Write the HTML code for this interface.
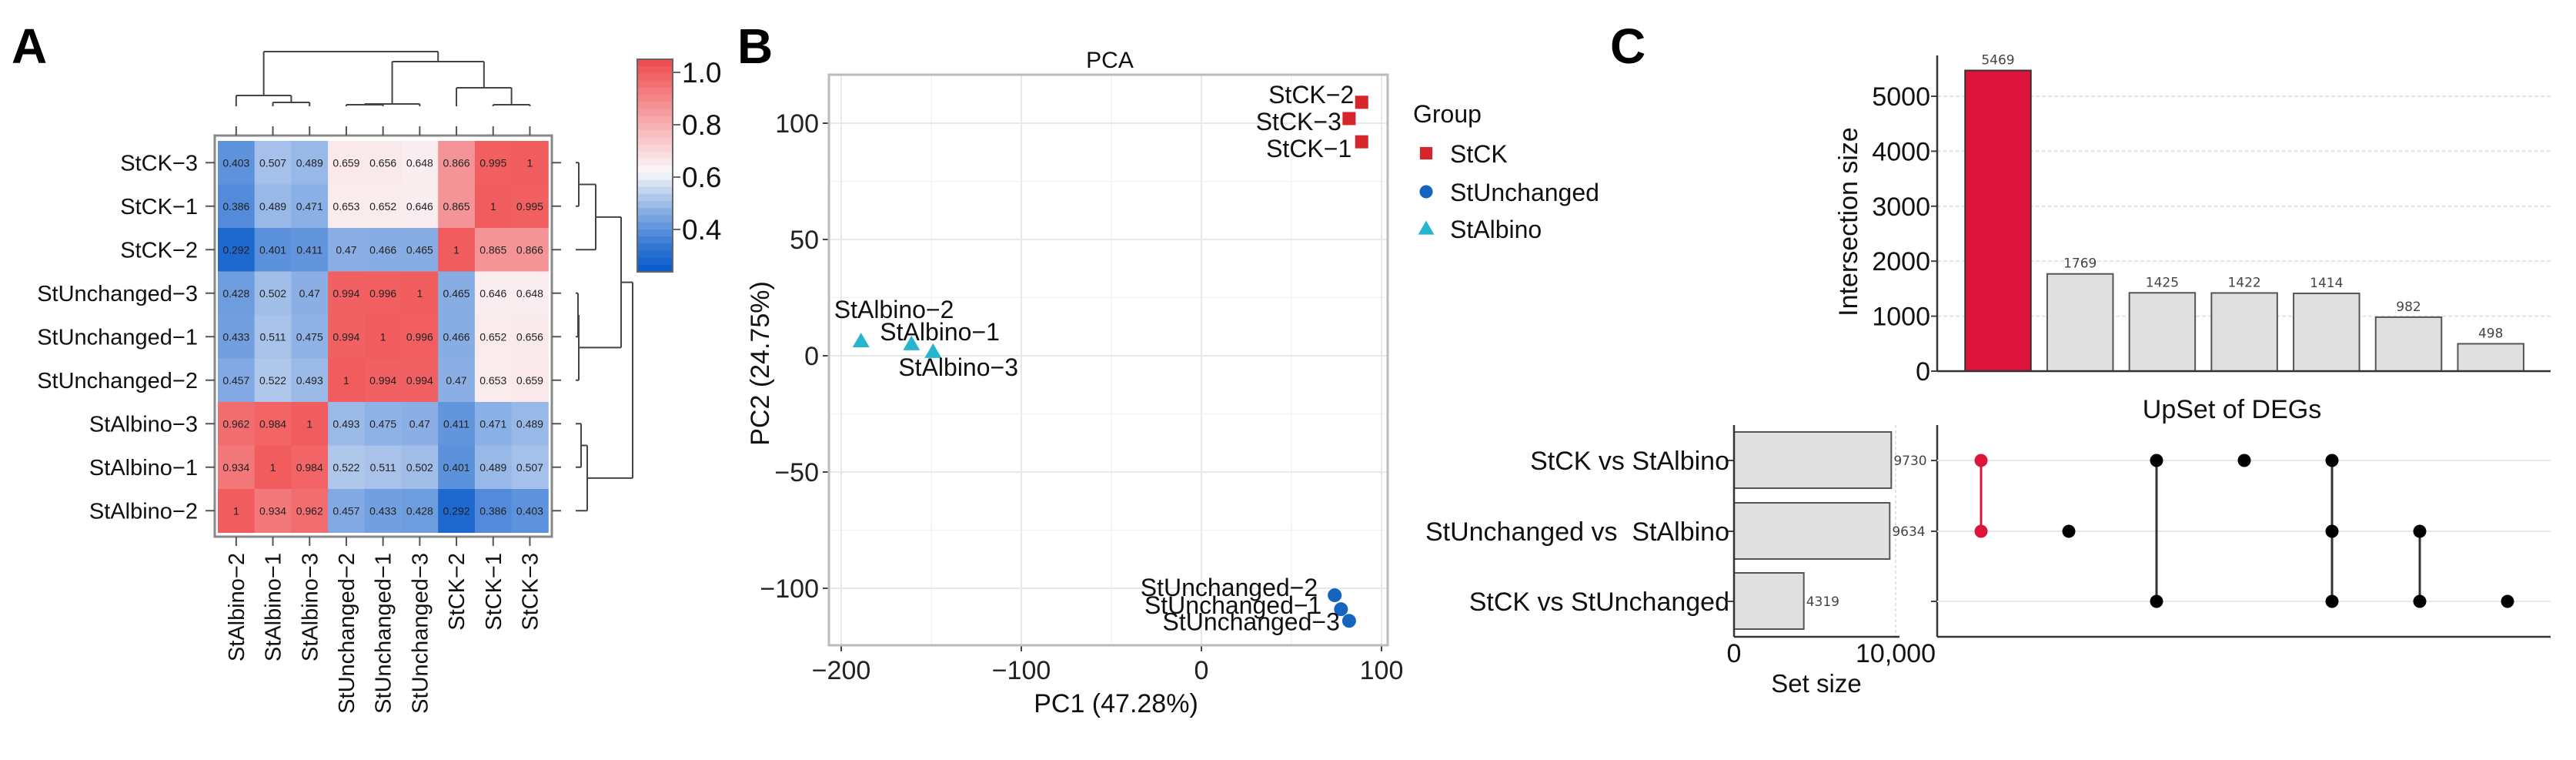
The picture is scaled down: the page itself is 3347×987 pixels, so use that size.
<!DOCTYPE html>
<html><head><meta charset="utf-8"><style>
html,body{margin:0;padding:0;background:#fff;}
svg{display:block;font-family:"Liberation Sans",Arial,sans-serif;}
</style></head><body>
<svg id="fig" xmlns="http://www.w3.org/2000/svg" width="3347" height="987" viewBox="0 0 3347 987">
<rect width="3347" height="987" fill="#fff"/>
<text x="15" y="82" font-size="64" font-weight="bold">A</text>
<text x="958" y="82" font-size="64" font-weight="bold">B</text>
<text x="2092" y="82" font-size="64" font-weight="bold">C</text>
<g id="heat"></g>
<g id="pca"></g>
<g id="upset"></g>
</svg>
<script>
// ---------- Panel A data ----------
const rowLabels = ["StCK-3","StCK-1","StCK-2","StUnchanged-3","StUnchanged-1","StUnchanged-2","StAlbino-3","StAlbino-1","StAlbino-2"];
const colLabels = ["StAlbino-2","StAlbino-1","StAlbino-3","StUnchanged-2","StUnchanged-1","StUnchanged-3","StCK-2","StCK-1","StCK-3"];
const corrValues = [
 [0.403,0.507,0.489,0.659,0.656,0.648,0.866,0.995,1],
 [0.386,0.489,0.471,0.653,0.652,0.646,0.865,1,0.995],
 [0.292,0.401,0.411,0.47,0.466,0.465,1,0.865,0.866],
 [0.428,0.502,0.47,0.994,0.996,1,0.465,0.646,0.648],
 [0.433,0.511,0.475,0.994,1,0.996,0.466,0.652,0.656],
 [0.457,0.522,0.493,1,0.994,0.994,0.47,0.653,0.659],
 [0.962,0.984,1,0.493,0.475,0.47,0.411,0.471,0.489],
 [0.934,1,0.984,0.522,0.511,0.502,0.401,0.489,0.507],
 [1,0.934,0.962,0.457,0.433,0.428,0.292,0.386,0.403]];
const colTree = [[0,[1,2,5],14],[[[3,4,2],5,3],[6,[7,8,2],24],58],71];
const rowTree = [[[[0,1,4],2,26],[[3,4,3],5,4],59],[[6,7,7],8,15],74];
const cbarTicks = [1.0,0.8,0.6,0.4];
const cbarTickLabels = ["1.0","0.8","0.6","0.4"];
// ---------- Panel B data ----------
const pcaNames = ["StCK-2","StCK-3","StCK-1","StUnchanged-2","StUnchanged-1","StUnchanged-3","StAlbino-2","StAlbino-1","StAlbino-3"];
const pcaGroup = [0,0,0,1,1,1,2,2,2];
const pc1 = [89,82,89,74,77.5,82,-189,-161,-149];
const pc2 = [109,102,92,-103,-109,-114,6.3,5,1.7];
const groupNames = ["StCK","StUnchanged","StAlbino"];
const xTicks = [-200,-100,0,100];
const yTicks = [100,50,0,-50,-100];
// ---------- Panel C data ----------
const interSizes = [5469,1769,1425,1422,1414,982,498];
const interSets = [[0,1],[1],[0,2],[0],[0,1,2],[1,2],[2]];
const setNames = ["StCK vs StAlbino","StUnchanged vs  StAlbino","StCK vs StUnchanged"];
const setSizes = [9730,9634,4319];
const interTicks = [0,1000,2000,3000,4000,5000];

const NS="http://www.w3.org/2000/svg";
function mk(parent,tag,attrs,text){const e=document.createElementNS(NS,tag);for(const k in attrs)e.setAttribute(k,attrs[k]);if(text!==undefined)e.textContent=text;parent.appendChild(e);return e;}

// ===== Panel A =====
(function(){
 const g=document.getElementById('heat');
 const x0=283,y0=183,cw=47.7,ch=56.5,n=9;
 const cx=i=>x0+cw*(i+0.5), cy=i=>y0+ch*(i+0.5);
 const lo=[10,92,204], mid=[251,248,250], hi=[240,73,75];
 function col(v){let a,b,t;if(v<0.62){a=lo;b=mid;t=Math.pow((v-0.24)/0.38,1.25);}else{a=mid;b=hi;t=(v-0.62)/0.43;}t=Math.max(0,Math.min(1,t));return 'rgb('+a.map((c,i)=>Math.round(c+(b[i]-c)*t)).join(',')+')';}
 for(let r=0;r<n;r++)for(let c=0;c<n;c++){
  const v=corrValues[r][c];
  const rc=mk(g,'rect',{x:x0+cw*c,y:y0+ch*r,width:cw+0.5,height:ch+0.5,fill:col(v)});
  
  
  const t=mk(g,'text',{x:cx(c),y:cy(r)+5,'font-size':14,'text-anchor':'middle',fill:'#222'},String(v));
  
  
 }
 mk(g,'rect',{x:279,y:176,width:438,height:521,fill:'none',stroke:'#888','stroke-width':3});
 for(let i=0;i<n;i++){
  mk(g,'line',{x1:267,x2:279,y1:cy(i),y2:cy(i),stroke:'#555','stroke-width':2});
  mk(g,'line',{x1:717,x2:729,y1:cy(i),y2:cy(i),stroke:'#555','stroke-width':2});
  mk(g,'line',{x1:cx(i),x2:cx(i),y1:164,y2:176,stroke:'#555','stroke-width':2});
  mk(g,'line',{x1:cx(i),x2:cx(i),y1:697,y2:709,stroke:'#555','stroke-width':2});
  const rl=mk(g,'text',{x:257,y:cy(i)+10,'font-size':29,'text-anchor':'end',fill:'#111'},rowLabels[i].replace('-','\u2212'));
  
  
  const cl=mk(g,'text',{x:0,y:0,'font-size':29,'text-anchor':'end',fill:'#111',transform:'translate('+(cx(i)+10)+',718) rotate(-90)'},colLabels[i].replace('-','\u2212'));
  
  
 }
 function dend(node,posf,draw){
  if(typeof node==='number')return{p:posf(node),h:0};
  const a=dend(node[0],posf,draw),b=dend(node[1],posf,draw),h=node[2];
  draw(a.p,a.h,h);draw(b.p,b.h,h);draw(a.p,h,h,b.p);
  return{p:(a.p+b.p)/2,h:h};
 }
 const st={stroke:'#444','stroke-width':2,fill:'none'};
 dend(colTree,cx,(p,h1,h2,p2)=>{const y=h=>138-h;
  if(p2===undefined)mk(g,'line',Object.assign({x1:p,x2:p,y1:y(h1),y2:y(h2)},st));
  else mk(g,'line',Object.assign({x1:p,x2:p2,y1:y(h1),y2:y(h1)},st));});
 dend(rowTree,cy,(p,h1,h2,p2)=>{const x=h=>748+h;
  if(p2===undefined)mk(g,'line',Object.assign({y1:p,y2:p,x1:x(h1),x2:x(h2)},st));
  else mk(g,'line',Object.assign({y1:p,y2:p2,x1:x(h1),x2:x(h1)},st));});
 const cbY=v=>94+(1-v)*340;
 const steps=30,vTop=1.05,vBot=0.238;
 for(let s=0;s<steps;s++){const v1=vTop-(vTop-vBot)*s/steps,v2=vTop-(vTop-vBot)*(s+1)/steps;
  mk(g,'rect',{x:828,y:cbY(v1),width:46,height:cbY(v2)-cbY(v1)+0.6,fill:col((v1+v2)/2)});}
 mk(g,'rect',{x:828,y:cbY(vTop),width:46,height:cbY(vBot)-cbY(vTop),fill:'none',stroke:'#666','stroke-width':2});
 cbarTicks.forEach((v,i)=>{mk(g,'line',{x1:874,x2:884,y1:cbY(v),y2:cbY(v),stroke:'#666','stroke-width':2});
  const t=mk(g,'text',{x:886,y:cbY(v)+13,'font-size':37,fill:'#111'},cbarTickLabels[i]);
  
  });
})();

// ===== Panel B =====
(function(){
 const g=document.getElementById('pca');
 const L=1077,R=1803,T=97,B=838;
 const X=v=>1561+v*2.34, Y=v=>462-v*3.02;
 mk(g,'rect',{x:L,y:T,width:R-L,height:B-T,fill:'#fff'});
 [-150,-50,50].forEach(v=>mk(g,'line',{x1:X(v),x2:X(v),y1:T,y2:B,stroke:'#f3f3f3','stroke-width':1.5}));
 [75,25,-25,-75].forEach(v=>mk(g,'line',{x1:L,x2:R,y1:Y(v),y2:Y(v),stroke:'#f3f3f3','stroke-width':1.5}));
 xTicks.forEach(v=>{mk(g,'line',{x1:X(v),x2:X(v),y1:T,y2:B,stroke:'#e8e8e8','stroke-width':2});
  mk(g,'line',{x1:X(v),x2:X(v),y1:B,y2:B+8,stroke:'#444','stroke-width':2});
  const t=mk(g,'text',{x:X(v),y:882,'font-size':34,'text-anchor':'middle',fill:'#222'},String(v).replace('-','\u2212'));
  
  });
 yTicks.forEach(v=>{mk(g,'line',{x1:L,x2:R,y1:Y(v),y2:Y(v),stroke:'#e8e8e8','stroke-width':2});
  mk(g,'line',{x1:L-8,x2:L,y1:Y(v),y2:Y(v),stroke:'#444','stroke-width':2});
  const t=mk(g,'text',{x:1064,y:Y(v)+12,'font-size':34,'text-anchor':'end',fill:'#222'},String(v).replace('-','\u2212'));
  
  });
 mk(g,'rect',{x:L,y:T,width:R-L,height:B-T,fill:'none',stroke:'#bbb','stroke-width':3});
 const cols=['#d7262b','#1565c0','#26b5cf'];
 function sym(gp,x,y,s){
  if(gp===0)return mk(g,'rect',{x:x-s*8.5,y:y-s*8.5,width:s*17,height:s*17,fill:cols[0]});
  if(gp===1)return mk(g,'circle',{cx:x,cy:y,r:s*9,fill:cols[1]});
  return mk(g,'polygon',{points:(x)+','+(y-s*11)+' '+(x+s*11)+','+(y+s*8)+' '+(x-s*11)+','+(y+s*8),fill:cols[2]});
 }
 const lab=[[-10,1,'end'],[-10,15,'end'],[-13,20,'end'],[-22,1,'end'],[-25,6,'end'],[-12,12,'end'],[-35,-30,'start'],[-41,-5,'start'],[-45,31,'start']];
 for(let i=0;i<pc1.length;i++){
  const m=sym(pcaGroup[i],X(pc1[i]),Y(pc2[i]),1);
  
  
  const t=mk(g,'text',{x:X(pc1[i])+lab[i][0],y:Y(pc2[i])+lab[i][1],'font-size':32,'text-anchor':lab[i][2],fill:'#111'},pcaNames[i].replace('-','\u2212'));
  
  
 }
 mk(g,'text',{x:1442,y:88,'font-size':30,'text-anchor':'middle',fill:'#111',},'PCA');
 mk(g,'text',{x:1450,y:925,'font-size':34,'text-anchor':'middle',fill:'#111',},'PC1 (47.28%)');
 mk(g,'text',{x:0,y:0,'font-size':34,'text-anchor':'middle',fill:'#111',transform:'translate(999,472) rotate(-90)',},'PC2 (24.75%)');
 mk(g,'text',{x:1836,y:159,'font-size':32,fill:'#111',},'Group');
 const ly=[199,249,297];
 groupNames.forEach((n,i)=>{const m=sym(i,1853,ly[i],0.95);
  
  
  const t=mk(g,'text',{x:1884,y:ly[i]+12,'font-size':32,fill:'#111'},n);
  
  });
})();

// ===== Panel C =====
(function(){
 const g=document.getElementById('upset');
 const AX=2517, base=482, top=72, RX=3314;
 const Yb=v=>base-v*0.0714;
 const bx=i=>2596+i*106.7, bw=85.5;
 interTicks.forEach(v=>{
  if(v>0)mk(g,'line',{x1:AX,x2:RX,y1:Yb(v),y2:Yb(v),stroke:'#e4e4e4','stroke-width':2,'stroke-dasharray':'5,3'});
  mk(g,'line',{x1:AX-8,x2:AX,y1:Yb(v),y2:Yb(v),stroke:'#444','stroke-width':2});
  const t=mk(g,'text',{x:2508,y:Yb(v)+12,'font-size':34,'text-anchor':'end',fill:'#111'},String(v));
  
  });
 interSizes.forEach((v,i)=>{
  const r=mk(g,'rect',{x:bx(i)-bw/2,y:Yb(v),width:bw,height:base-Yb(v),fill:i===0?'#dc143c':'#e0e0e0',stroke:i===0?'#333':'#555','stroke-width':2});
  
  
  const t=mk(g,'text',{x:bx(i),y:Yb(v)-8,'font-size':17,'text-anchor':'middle',fill:'#444','font-family':'DejaVu Sans, sans-serif'},String(v));
  
  });
 mk(g,'line',{x1:AX,x2:AX,y1:top,y2:base,stroke:'#333','stroke-width':2.5});
 mk(g,'line',{x1:AX,x2:RX,y1:base,y2:base,stroke:'#333','stroke-width':2.5});
 mk(g,'text',{x:0,y:0,'font-size':34,'text-anchor':'middle',fill:'#111',transform:'translate(2413,288) rotate(-90)',},'Intersection size');
 mk(g,'text',{x:2900,y:543,'font-size':34,'text-anchor':'middle',fill:'#111',},'UpSet of DEGs');
 const rowY=[598,690,781], dx=i=>2574+i*114;
 mk(g,'line',{x1:AX,x2:AX,y1:552,y2:827,stroke:'#333','stroke-width':2.5});
 mk(g,'line',{x1:AX,x2:RX,y1:827,y2:827,stroke:'#333','stroke-width':2.5});
 rowY.forEach(y=>{mk(g,'line',{x1:AX,x2:RX,y1:y,y2:y,stroke:'#e8e8e8','stroke-width':2});
  mk(g,'line',{x1:AX-8,x2:AX,y1:y,y2:y,stroke:'#444','stroke-width':2});});
 interSets.forEach((s,i)=>{const c=i===0?'#dc143c':'#000';
  if(s.length>1)mk(g,'line',{x1:dx(i),x2:dx(i),y1:rowY[Math.min(...s)],y2:rowY[Math.max(...s)],stroke:i===0?c:'#333','stroke-width':3});
  s.forEach(r=>{const d=mk(g,'circle',{cx:dx(i),cy:rowY[r],r:8.5,fill:c});
   
   });});
 const SX=2253, Xs=v=>SX+v*0.021;
 mk(g,'line',{x1:Xs(10000),x2:Xs(10000),y1:552,y2:827,stroke:'#e4e4e4','stroke-width':2,'stroke-dasharray':'4,3'});
 setSizes.forEach((v,i)=>{
  const r=mk(g,'rect',{x:SX,y:rowY[i]-37,width:Xs(v)-SX,height:73,fill:'#e0e0e0',stroke:'#555','stroke-width':2});
  
  
  const t=mk(g,'text',{x:Xs(v)+3,y:rowY[i]+6,'font-size':17,fill:'#444','font-family':'DejaVu Sans, sans-serif'},String(v));
  
  
  mk(g,'line',{x1:SX-8,x2:SX,y1:rowY[i],y2:rowY[i],stroke:'#444','stroke-width':2});
  const l=mk(g,'text',{x:2247,y:rowY[i]+12,'font-size':34,'text-anchor':'end',fill:'#111',style:'white-space:pre'},setNames[i]);
  
  });
 mk(g,'line',{x1:SX,x2:SX,y1:552,y2:827,stroke:'#333','stroke-width':2.5});
 mk(g,'line',{x1:SX,x2:Xs(10000)+5,y1:827,y2:827,stroke:'#333','stroke-width':2.5});
 mk(g,'text',{x:SX,y:860,'font-size':34,'text-anchor':'middle',fill:'#111',},'0');
 mk(g,'text',{x:Xs(10000),y:860,'font-size':34,'text-anchor':'middle',fill:'#111',},'10,000');
 mk(g,'text',{x:2360,y:899,'font-size':33,'text-anchor':'middle',fill:'#111',},'Set size');
})();
</script>
</body></html>
